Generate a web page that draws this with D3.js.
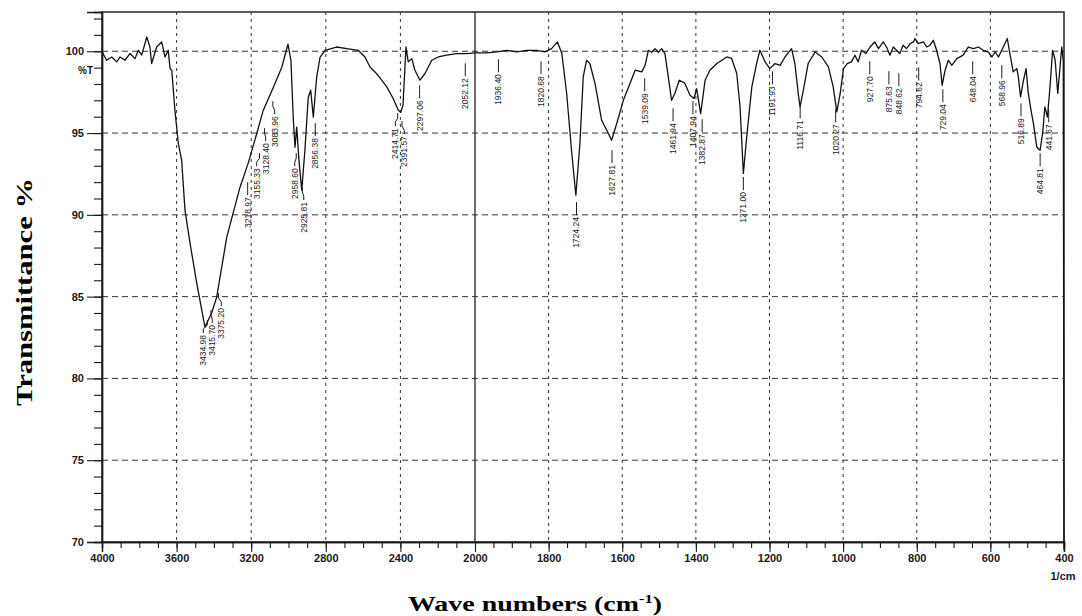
<!DOCTYPE html>
<html>
<head>
<meta charset="utf-8">
<script src="https://cdn.jsdelivr.net/npm/d3@7"></script>
<style>
    body { margin: 0; background: #fff; }
</style>
</head>
<body>
<div id="chart"></div>
<script>
//Spectrum: wave number (1/cm) and %T
const waveNumbers = [
    4000, 3975, 3948, 3921, 3903, 3877, 3850, 3823, 3805, 3787, 3760, 3743, 3734, 3707, 3680, 3662, 3645, 3635, 3626,
    3609, 3591, 3573, 3555, 3528, 3492, 3465, 3448, 3430, 3412, 3385, 3331, 3260, 3216, 3170, 3135, 3081, 3036,
    3003, 2987, 2974, 2965, 2956, 2944, 2929, 2912, 2894, 2881, 2867, 2849, 2831, 2804, 2742, 2688, 2626, 2590,
    2563, 2527, 2473, 2438, 2411, 2398, 2386, 2370, 2358, 2339, 2322, 2295, 2268, 2232, 2197, 2152, 2098, 2044, 2000,
    1968, 1941, 1914, 1887, 1860, 1833, 1810, 1792, 1776, 1764, 1751, 1737, 1726, 1715, 1706, 1697, 1688, 1674,
    1656, 1642, 1629, 1615, 1597, 1579, 1565, 1547, 1538, 1529, 1520, 1511, 1502, 1493, 1484, 1475, 1466, 1457,
    1445, 1430, 1416, 1405, 1398, 1387, 1375, 1362, 1343, 1316, 1303, 1289, 1280, 1271, 1262, 1248, 1235, 1226,
    1212, 1199, 1185, 1171, 1158, 1140, 1131, 1122, 1117, 1108, 1095, 1076, 1058, 1040, 1027, 1017, 1008, 999,
    989, 977, 968, 959, 950, 938, 927, 914, 904, 891, 882, 873, 864, 855, 846, 837, 828, 818, 809, 805, 796,
    782, 773, 764, 755, 746, 737, 731, 723, 714, 705, 691, 674, 660, 646, 633, 619, 606, 596, 587, 578, 565,
    554, 547, 538, 528, 524, 518, 511, 503, 497, 488, 483, 474, 465, 458, 452, 445, 438, 431, 424, 417, 410,
    406, 402, 400
];
const transmittance = [
    99.96, 99.45, 99.65, 99.35, 99.65, 99.45, 99.86, 99.55, 100.06, 99.76, 100.87, 100.26, 99.25, 100.26, 100.57, 99.65, 100.06, 98.94, 98.84,
    96.40, 94.38, 93.34, 90.29, 88.27, 85.83, 84.18, 83.14, 83.57, 84.00, 84.97, 88.64, 91.69, 93.16, 94.99, 96.40, 97.80, 99.02,
    100.43, 99.45, 95.78, 94.13, 95.36, 93.34, 91.51, 93.95, 97.19, 97.62, 95.97, 98.41, 99.63, 100.06, 100.26, 100.16, 100.06, 99.65,
    99.04, 98.63, 97.82, 97.10, 96.40, 96.27, 96.70, 100.26, 99.35, 99.55, 98.84, 98.23, 98.64, 99.45, 99.65, 99.76, 99.86, 99.86, 99.90,
    99.90, 99.96, 100.06, 99.96, 100.06, 100.06, 99.96, 100.16, 100.57, 99.86, 97.42, 93.75, 91.20, 94.36, 98.43, 99.45, 99.25, 98.03,
    95.78, 95.17, 94.56, 95.58, 97.00, 98.03, 98.84, 98.74, 99.14, 100.06, 99.94, 100.16, 99.94, 100.16, 99.86, 98.43, 97.00, 97.43,
    98.23, 98.05, 97.31, 97.11, 97.72, 96.19, 98.23, 98.84, 99.25, 99.65, 99.57, 98.64, 96.60, 92.53, 94.76, 97.82, 99.25, 100.06,
    99.35, 98.94, 99.25, 99.14, 99.65, 100.16, 99.25, 97.42, 96.60, 97.62, 99.25, 99.96, 99.65, 99.04, 97.82, 96.29, 97.42, 98.94,
    99.25, 99.35, 99.76, 99.35, 100.06, 99.86, 100.26, 100.57, 100.16, 100.57, 100.26, 99.76, 100.26, 100.06, 99.86, 100.37, 100.16, 100.47, 100.57, 100.78, 100.47,
    100.57, 100.26, 100.37, 100.67, 100.06, 99.25, 97.92, 98.84, 99.45, 99.14, 99.55, 99.76, 100.26, 100.16, 100.26, 100.06, 99.96, 99.65, 99.96, 99.65, 100.26,
    100.78, 99.86, 98.74, 98.94, 98.43, 97.21, 98.12, 98.94, 97.42, 96.19, 95.58, 94.15, 93.95, 94.99, 96.60, 95.98, 97.82, 100.06, 99.45, 97.42, 99.25,
    100.26, 99.45, 69.50
];

//Peak labels and the %T where each label's text begins
const peakLabels = [
    "3434.98", "3415.70", "3375.20", "3218.97", "3155.33", "3128.40", "3083.96", "2958.60", "2925.81", "2856.38",
    "2414.71", "2391.57", "2297.06", "2052.12", "1936.40", "1820.68", "1724.24", "1627.81", "1539.09", "1461.94",
    "1407.94", "1382.87", "1271.00", "1191.93", "1116.71", "1020.27", "927.70", "875.63", "848.62", "794.62",
    "729.04", "648.04", "568.96", "516.89", "464.81", "441.67"
];
const peakLabelT = [
    82.65, 83.26, 84.30, 91.08, 92.85, 94.38, 96.03, 92.85, 90.78, 94.69,
    95.30, 94.81, 97.00, 98.35, 98.60, 98.47, 89.86, 93.04, 97.43, 95.60,
    96.03, 94.93, 91.39, 97.86, 95.78, 95.54, 98.47, 97.86, 97.74, 98.10,
    96.76, 98.47, 98.23, 95.90, 92.85, 95.54
];

//Axis ticks
const xMajorTicks = [4000, 3600, 3200, 2800, 2400, 2000, 1800, 1600, 1400, 1200, 1000, 800, 600, 400];
const yMajorTicks = [70, 75, 80, 85, 90, 95, 100];

function d1() {
    const W = 1082, H = 616;
    const plot = {l: 102, r: 1064, t: 12, b: 542};
    const axisFont = "'Liberation Sans', Arial, sans-serif";
    const titleFont = "'Liberation Serif', 'Times New Roman', serif";
    const ink = "#1a1a1a";

    let svg = d3.select("#chart")
        .append("svg")
        .attr("width", W)
        .attr("height", H);
    svg.append("rect")
        .attr("width", "100%")
        .attr("height", "100%")
        .attr("fill", "#fff");

    //4000-2000 is drawn at half the scale of 2000-400
    let scaleX = d3.scaleLinear().domain([4000, 2000, 400]).range([plot.l, 475, plot.r]);
    let scaleY = d3.scaleLinear().domain([70, 102.4]).range([plot.b, plot.t]);

    //minor ticks: every 100 left of 2000, every 50 right of it
    let xMinor = d3.range(4000, 2000, -100).concat(d3.range(2000, 399, -50));
    let yMinor = d3.range(70, 103, 1);

    //Grid
    let grid = svg.append("g").attr("class", "grid");
    grid.selectAll("line.h")
        .data(yMajorTicks.filter(v => v > 70))
        .enter().append("line")
        .attr("class", "h")
        .attr("x1", plot.l).attr("x2", plot.r)
        .attr("y1", d => scaleY(d)).attr("y2", d => scaleY(d))
        .attr("stroke", "#333")
        .attr("stroke-width", 1)
        .attr("stroke-dasharray", "6,4");
    grid.selectAll("line.v")
        .data(xMajorTicks.filter(v => v < 4000 && v > 400))
        .enter().append("line")
        .attr("class", "v")
        .attr("x1", d => scaleX(d)).attr("x2", d => scaleX(d))
        .attr("y1", plot.t).attr("y2", plot.b)
        .attr("stroke", d => d === 2000 ? "#222" : "#333")
        .attr("stroke-width", d => d === 2000 ? 1.3 : 1)
        .attr("stroke-dasharray", d => d === 2000 ? null : "3,4");

    //Frame
    svg.append("rect")
        .attr("x", plot.l).attr("y", plot.t)
        .attr("width", plot.r - plot.l).attr("height", plot.b - plot.t)
        .attr("fill", "none")
        .attr("stroke", ink)
        .attr("stroke-width", 1.4);

    //Y axis
    let yMinorAxis = svg.append("g")
        .attr("transform", `translate(${plot.l},0)`)
        .call(d3.axisLeft(scaleY).tickValues(yMinor).tickSize(8).tickFormat(""));
    let yMajorAxis = svg.append("g")
        .attr("transform", `translate(${plot.l},0)`)
        .call(d3.axisLeft(scaleY).tickValues(yMajorTicks).tickSize(15).tickPadding(3).tickFormat(d3.format("d")));

    //X axis
    let xMinorAxis = svg.append("g")
        .attr("transform", `translate(0,${plot.b})`)
        .call(d3.axisBottom(scaleX).tickValues(xMinor).tickSize(6).tickFormat(""));
    let xMajorAxis = svg.append("g")
        .attr("transform", `translate(0,${plot.b})`)
        .call(d3.axisBottom(scaleX).tickValues(xMajorTicks).tickSize(10).tickPadding(2).tickFormat(d3.format("d")));

    [yMinorAxis, yMajorAxis, xMinorAxis, xMajorAxis].forEach(function(a) {
        a.select(".domain").attr("stroke", ink).attr("stroke-width", 1.4);
        a.selectAll(".tick line").attr("stroke", ink).attr("stroke-width", 1.1);
        a.selectAll(".tick text")
            .attr("fill", ink)
            .attr("font-family", axisFont)
            .attr("font-size", 11)
            .attr("font-weight", "bold");
    });

    //unit labels inside the axes
    svg.append("text")
        .attr("x", 93).attr("y", scaleY(98.8))
        .attr("text-anchor", "end")
        .attr("dy", "0.35em")
        .attr("font-family", axisFont).attr("font-size", 10).attr("font-weight", "bold")
        .attr("fill", ink)
        .text("%T");
    svg.append("text")
        .attr("x", 1063).attr("y", 580)
        .attr("text-anchor", "middle")
        .attr("font-family", axisFont).attr("font-size", 11).attr("font-weight", "bold")
        .attr("fill", ink)
        .text("1/cm");

    //Spectrum line
    let points = waveNumbers.map((w, i) => [w, transmittance[i]]);
    svg.append("path")
        .datum(points)
        .attr("fill", "none")
        .attr("stroke", "#111")
        .attr("stroke-width", 1.3)
        .attr("stroke-linejoin", "round")
        .attr("d", d3.line()
            .x(function(d) {return scaleX(d[0])})
            .y(function(d) {return scaleY(d[1])}));

    //Peak labels: push apart labels that would overlap each other
    const labelH = 36, minGap = 9;
    let marks = peakLabels.map(function(label, i) {
        let x0 = scaleX(parseFloat(label));
        return {label: label, x0: x0, x: x0, y: scaleY(peakLabelT[i])};
    });
    for (let iter = 0; iter < 30; iter++) {
        for (let i = 0; i < marks.length; i++) {
            for (let j = i + 1; j < marks.length; j++) {
                let a = marks[i], b = marks[j];
                let overlapY = Math.abs(a.y - b.y) < labelH;
                let dx = b.x - a.x;
                if (overlapY && Math.abs(dx) < minGap) {
                    let push = (minGap - Math.abs(dx)) / 2;
                    let dir = dx >= 0 ? 1 : -1;
                    a.x -= push * dir;
                    b.x += push * dir;
                }
            }
        }
    }

    let peaks = svg.append("g").attr("class", "peaks");
    marks.forEach(function(m) {
        peaks.append("path")
            .attr("d", `M${m.x0},${m.y - 15}L${m.x0},${m.y - 10}L${m.x},${m.y - 6}L${m.x},${m.y - 2}`)
            .attr("fill", "none")
            .attr("stroke", ink)
            .attr("stroke-width", 1);
        peaks.append("text")
            .attr("transform", `translate(${m.x},${m.y}) rotate(-90)`)
            .attr("text-anchor", "end")
            .attr("dy", "0.35em")
            .attr("font-family", axisFont)
            .attr("font-size", 8.5)
            .attr("fill", ink)
            .text(m.label);
    });

    //Axis titles (the original lettering is stretched along its line)
    svg.append("text")
        .attr("transform", `translate(32,292) rotate(-90)`)
        .attr("text-anchor", "middle")
        .attr("font-family", titleFont)
        .attr("font-size", 23)
        .attr("font-weight", "bold")
        .attr("fill", "#000")
        .attr("textLength", 228)
        .attr("lengthAdjust", "spacingAndGlyphs")
        .text("Transmittance %");
    let xTitle = svg.append("text")
        .attr("x", 535).attr("y", 611)
        .attr("text-anchor", "middle")
        .attr("font-family", titleFont)
        .attr("font-size", 22)
        .attr("font-weight", "bold")
        .attr("fill", "#000")
        .attr("textLength", 254)
        .attr("lengthAdjust", "spacingAndGlyphs");
    xTitle.append("tspan").text("Wave numbers (cm");
    xTitle.append("tspan").attr("dy", -8).attr("font-size", 13).text("-1");
    xTitle.append("tspan").attr("dy", 8).text(")");
}
d1();
</script>
</body>
</html>
